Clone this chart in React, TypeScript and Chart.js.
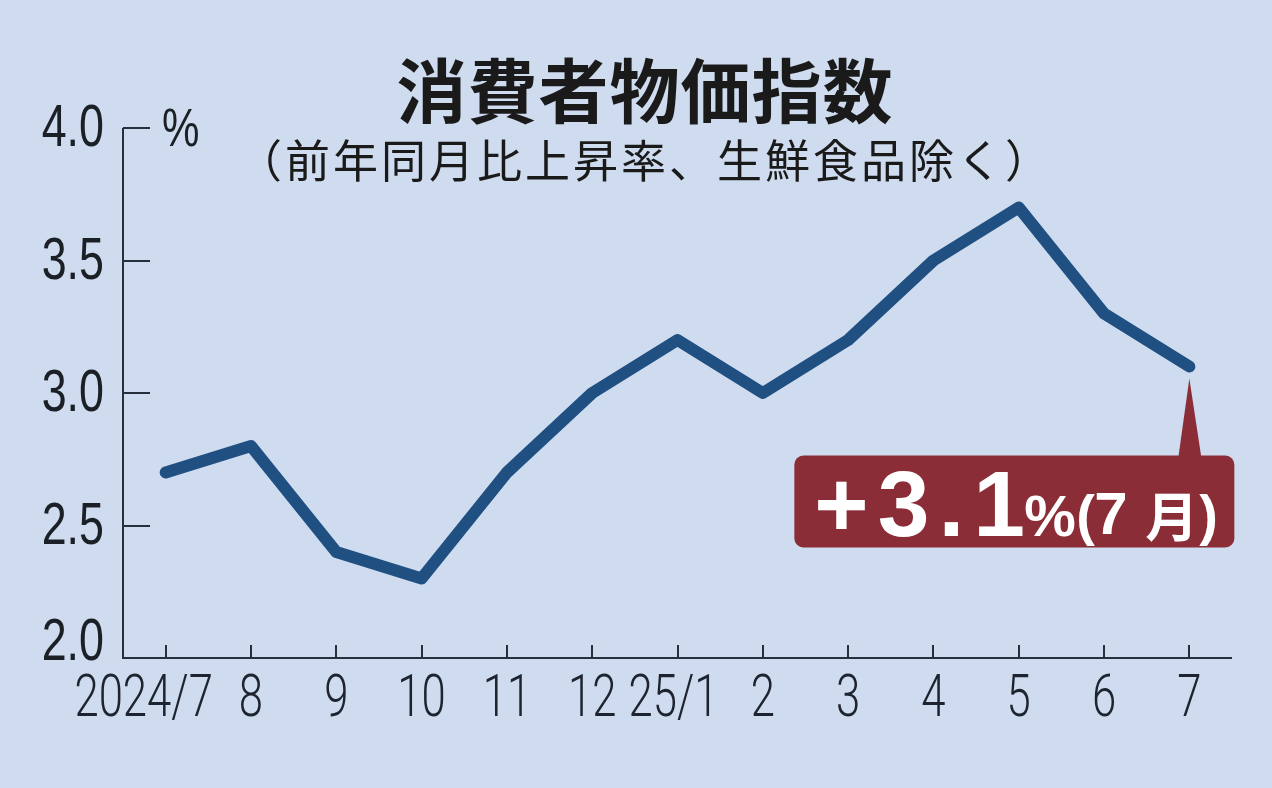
import React, { useEffect, useRef } from "react";
import { Chart, registerables } from "chart.js";

Chart.register(...registerables);

const xLabels = ["2024/7", "8", "9", "10", "11", "12", "25/1", "2", "3", "4", "5", "6", "7"];
const cpi = [2.7, 2.8, 2.4, 2.3, 2.7, 3.0, 3.2, 3.0, 3.2, 3.5, 3.7, 3.3, 3.1];
const yTicks = [2.0, 2.5, 3.0, 3.5, 4.0];
const titleText = "消費者物価指数";
const subtitleText = "（前年同月比上昇率、生鮮食品除く）";
const unitText = "%";
const calloutValue = "+3.1";
const calloutMonth = "7月";

const BG = "#cfdcef";
const AXIS = "#25303c";
const LINE = "#204f82";
const BOX = "#8b2d36";

function condensedText(ctx: CanvasRenderingContext2D, t: string, x: number, y: number, sx: number, align: CanvasTextAlign) {
  ctx.save();
  ctx.translate(x, y);
  ctx.scale(sx, 1);
  ctx.textAlign = align;
  ctx.textBaseline = "alphabetic";
  ctx.fillText(t, 0, 0);
  ctx.restore();
}

const decorPlugin = {
  id: "decor",
  beforeDraw(chart: any) {
    const ctx = chart.ctx as CanvasRenderingContext2D;
    ctx.save();
    ctx.fillStyle = BG;
    ctx.fillRect(0, 0, chart.width, chart.height);
    ctx.restore();
  },
  beforeDatasetsDraw(chart: any) {
    const ctx = chart.ctx as CanvasRenderingContext2D;
    const xs = chart.scales.x;
    const ys = chart.scales.y;
    const area = chart.chartArea;
    const yTop = ys.getPixelForValue(yTicks[yTicks.length - 1]);
    const yBot = ys.getPixelForValue(yTicks[0]);
    ctx.save();
    ctx.strokeStyle = AXIS;
    ctx.lineWidth = 2;
    ctx.beginPath();
    ctx.moveTo(area.left, yTop);
    ctx.lineTo(area.left, yBot);
    ctx.lineTo(area.right, yBot);
    ctx.stroke();
    ctx.beginPath();
    yTicks.forEach((v) => {
      const py = Math.round(ys.getPixelForValue(v));
      ctx.moveTo(area.left, py);
      ctx.lineTo(area.left + 27, py);
    });
    xLabels.forEach((_, i) => {
      const px = Math.round(xs.getPixelForValue(i));
      ctx.moveTo(px, yBot);
      ctx.lineTo(px, yBot - 13);
    });
    ctx.stroke();

    ctx.fillStyle = "#1b1f26";
    ctx.font = "400 59px 'Liberation Sans', Arial, sans-serif";
    yTicks.forEach((v) => {
      const py = ys.getPixelForValue(v);
      condensedText(ctx, v.toFixed(1), area.left - 19, Math.min(py + 18, yBot + 2), 0.76, "right");
    });
    ctx.fillStyle = "#1d2430";
    ctx.font = "300 59px Roboto, 'Liberation Sans', sans-serif";
    xLabels.forEach((l, i) => {
      const shift = i === 0 ? -22 : l.includes("/") ? -4 : 0;
      const px = xs.getPixelForValue(i) + shift;
      condensedText(ctx, l, px, yBot + 58, 0.74, "center");
    });
    ctx.fillStyle = "#1b1f26";
    ctx.font = "400 54px 'Liberation Sans', Arial, sans-serif";
    condensedText(ctx, unitText, area.left + 39, yTop + 18, 0.78, "left");

    ctx.fillStyle = "#1a1a1a";
    ctx.textAlign = "center";
    ctx.textBaseline = "alphabetic";
    ctx.font = "700 70px 'Noto Sans CJK JP', sans-serif";
    (ctx as any).letterSpacing = "1px";
    ctx.fillText(titleText, 645, 118);
    ctx.font = "400 45px 'Noto Sans CJK JP', sans-serif";
    (ctx as any).letterSpacing = "3px";
    ctx.fillText(subtitleText, 645, 178);
    (ctx as any).letterSpacing = "0px";
    ctx.restore();
  },
  afterDatasetsDraw(chart: any) {
    const ctx = chart.ctx as CanvasRenderingContext2D;
    const xs = chart.scales.x;
    const ys = chart.scales.y;
    const last = cpi.length - 1;
    const px = xs.getPixelForValue(last);
    const py = ys.getPixelForValue(cpi[last]);
    const left = px - 395;
    const right = px + 45;
    const top = py + 89;
    const bottom = py + 181;
    ctx.save();
    ctx.fillStyle = BOX;
    ctx.beginPath();
    ctx.moveTo(px, py + 12);
    ctx.lineTo(px + 12, top + 2);
    ctx.lineTo(px - 11, top + 2);
    ctx.closePath();
    ctx.fill();
    ctx.beginPath();
    (ctx as any).roundRect(left, top, right - left, bottom - top, 9);
    ctx.fill();

    ctx.fillStyle = "#ffffff";
    ctx.textBaseline = "alphabetic";
    ctx.textAlign = "left";
    const base = top + 80;
    ctx.font = "700 93px 'Liberation Sans', Arial, sans-serif";
    (ctx as any).letterSpacing = "9px";
    ctx.fillText(calloutValue, left + 20, base);
    (ctx as any).letterSpacing = "0px";
    ctx.font = "700 58px 'Liberation Sans', Arial, sans-serif";
    ctx.fillText("%", left + 230, base);
    ctx.font = "700 56px 'Liberation Sans', Arial, sans-serif";
    ctx.fillText("(", left + 282, base - 2);
    ctx.font = "700 60px 'Liberation Sans', Arial, sans-serif";
    ctx.fillText(calloutMonth.slice(0, 1), left + 300, base - 2);
    ctx.font = "700 53px 'Noto Sans CJK JP', sans-serif";
    ctx.fillText(calloutMonth.slice(1), left + 351, base + 1);
    ctx.font = "700 56px 'Liberation Sans', Arial, sans-serif";
    ctx.fillText(")", left + 405, base - 2);
    ctx.restore();
  },
};

export default function App() {
  const ref = useRef<HTMLCanvasElement | null>(null);
  useEffect(() => {
    document.body.style.margin = "0";
    document.body.style.background = BG;
    const canvas = ref.current!;
    const chart = new Chart(canvas, {
      type: "line",
      data: {
        labels: xLabels,
        datasets: [
          {
            data: cpi,
            borderColor: LINE,
            borderWidth: 12,
            borderCapStyle: "round",
            borderJoinStyle: "round",
            pointRadius: 0,
            tension: 0,
            fill: false,
          },
        ],
      },
      options: {
        animation: false,
        responsive: false,
        devicePixelRatio: 1,
        layout: { padding: { left: 123, right: 40, top: 128, bottom: 130 } },
        plugins: { legend: { display: false }, tooltip: { enabled: false }, title: { display: false } },
        scales: {
          x: { type: "category", offset: true, display: false },
          y: { type: "linear", min: 2, max: 4, display: false },
        },
      },
      plugins: [decorPlugin],
    });
    return () => chart.destroy();
  }, []);
  return <canvas ref={ref} width={1272} height={788} style={{ display: "block" }} />;
}
